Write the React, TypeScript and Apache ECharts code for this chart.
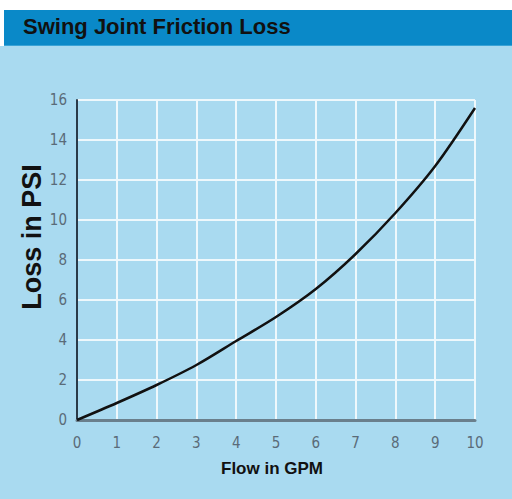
import React, { useEffect, useRef } from "react";
import * as echarts from "echarts";

const title = "Swing Joint Friction Loss";
const xName = "Flow in GPM";
const yName = "Loss in PSI";
const flowGPM = [0, 1, 2, 3, 4, 5, 6, 7, 8, 9, 10];
const lossPSI = [0, 0.85, 1.75, 2.75, 3.95, 5.15, 6.55, 8.3, 10.35, 12.7, 15.6];

const NARROW = '"DejaVu Sans Condensed", "Liberation Sans Narrow", sans-serif';
const BOLD = '"Liberation Sans", Arial, sans-serif';

export default function App() {
  const ref = useRef<HTMLDivElement>(null);
  useEffect(() => {
    if (!ref.current) return;
    const chart = echarts.init(ref.current, null, { renderer: "svg" });
    chart.setOption({
      animation: false,
      backgroundColor: "#a9daf0",
      graphic: [
        { type: "rect", shape: { x: 0, y: 0, width: 512, height: 10 }, style: { fill: "#ffffff" }, silent: true },
        { type: "rect", shape: { x: 0, y: 0, width: 4, height: 46 }, style: { fill: "#ffffff" }, silent: true },
        { type: "rect", shape: { x: 4, y: 10, width: 508, height: 35 }, style: { fill: "#0a89c8" }, silent: true },
        { type: "rect", shape: { x: 4, y: 45, width: 508, height: 1 }, style: { fill: "#3aa3d6" }, silent: true },
        {
          type: "text",
          x: 23,
          y: 26,
          style: { text: title, fill: "#111111", font: `bold 22px ${BOLD}`, align: "left", verticalAlign: "middle" },
        },
        {
          type: "text",
          x: 32,
          y: 237,
          rotation: Math.PI / 2,
          style: { text: yName, fill: "#111111", font: `bold 27px ${BOLD}`, align: "center", verticalAlign: "middle" },
        },
        {
          type: "text",
          x: 272,
          y: 468,
          style: { text: xName, fill: "#111111", font: `bold 17px ${BOLD}`, align: "center", verticalAlign: "middle" },
        },
      ],
      grid: { left: 77, right: 37, top: 100, bottom: 79 },
      xAxis: {
        type: "value",
        min: 0,
        max: 10,
        interval: 1,
        axisLine: { show: true, onZero: false, lineStyle: { color: "#6a7f8c", width: 3 } },
        axisTick: { show: false },
        axisLabel: { color: "#5a6b78", fontFamily: NARROW, fontSize: 15, margin: 15 },
        splitLine: { show: true, lineStyle: { color: "#eef8fc", width: 2 } },
      },
      yAxis: {
        type: "value",
        min: 0,
        max: 16,
        interval: 2,
        axisLine: { show: true, onZero: false, lineStyle: { color: "#2a3a48", width: 2 } },
        axisTick: { show: false },
        axisLabel: { color: "#5a6b78", fontFamily: NARROW, fontSize: 15, margin: 10 },
        splitLine: { show: true, lineStyle: { color: "#eef8fc", width: 2 } },
      },
      series: [
        {
          type: "line",
          data: flowGPM.map((x, i) => [x, lossPSI[i]]),
          smooth: 0.3,
          showSymbol: false,
          lineStyle: { color: "#111111", width: 2.5 },
        },
      ],
    });
    return () => chart.dispose();
  }, []);
  return <div ref={ref} style={{ position: "fixed", left: 0, top: 0, width: 512, height: 499 }} />;
}
